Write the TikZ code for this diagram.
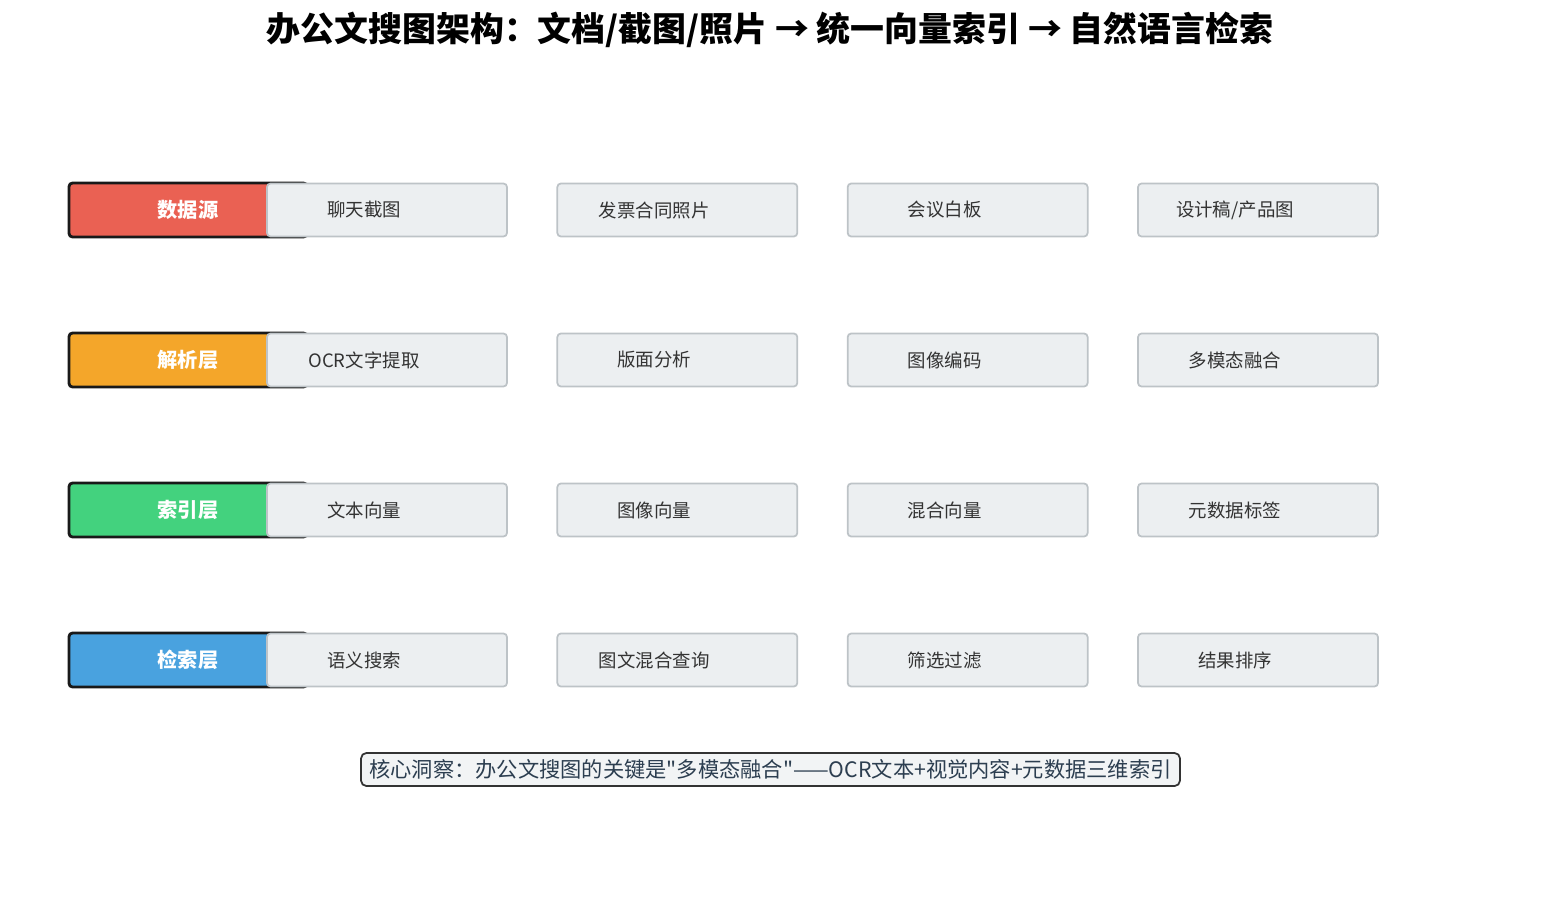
\documentclass[tikz,border=0pt]{standalone}
\usepackage{fontspec}
\setmainfont{Noto Sans CJK SC}[Ligatures=TeXOff]

\definecolor{srcred}{HTML}{EA6153}
\definecolor{parseorange}{HTML}{F4A62A}
\definecolor{indexgreen}{HTML}{43D27E}
\definecolor{searchblue}{HTML}{49A2DF}
\definecolor{itemfill}{HTML}{ECEFF1}
\definecolor{itemline}{HTML}{BDC3C7}
\definecolor{itemtext}{HTML}{333333}
\definecolor{notefill}{HTML}{F2F4F5}
\definecolor{notetext}{HTML}{2C3E50}

\begin{document}
\begin{tikzpicture}[x = 0.02cm, y = -0.02cm,
    layer/.style = {draw = black!90, line width = 1.6pt, rounded corners = 2pt,
        minimum width = 4.76cm, minimum height = 1.08cm, text = white,
        font = \fontsize{11.5}{14}\selectfont\bfseries},
    item/.style = {draw = itemline, fill = itemfill, line width = 1pt, rounded corners = 2pt,
        minimum width = 4.8cm, minimum height = 1.06cm},
    itemlabel/.style = {xshift = -0.46cm, text = itemtext, font = \fontsize{10.5}{13}\selectfont}]
    \useasboundingbox (0,0) rectangle (1541,906);

    \node[font = \fontsize{19.3}{23}\selectfont\bfseries] (title) at (770, 30)
        {办公文搜图架构：文档/截图/照片 → 统一向量索引 → 自然语言检索};

    % one row per layer
    \foreach \y/\tag/\name/\col/\items in {
        210/src/数据源/srcred/{聊天截图,发票合同照片,会议白板,{设计稿/产品图}},
        360/parse/解析层/parseorange/{OCR文字提取,版面分析,图像编码,多模态融合},
        510/index/索引层/indexgreen/{文本向量,图像向量,混合向量,元数据标签},
        660/search/检索层/searchblue/{语义搜索,图文混合查询,筛选过滤,结果排序}} {
        \node[layer, fill = \col] (\tag) at (188, \y) {\name};
        \foreach \t [count = \i from 0] in \items
            \node[item, label = {[itemlabel]center:\t}] (\tag-\i) at (387 + 290.33*\i, \y) {};
    }

    \node[draw = black!80, fill = notefill, text = notetext, line width = 1pt, rounded corners = 3pt,
        minimum width = 16.38cm, minimum height = 0.66cm, inner xsep = 2pt,
        font = \fontsize{12.1}{14}\selectfont] (insight) at (770.5, 769.5)
        {核心洞察：办公文搜图的关键是"多模态融合"——OCR文本+视觉内容+元数据三维索引};
\end{tikzpicture}
\end{document}
